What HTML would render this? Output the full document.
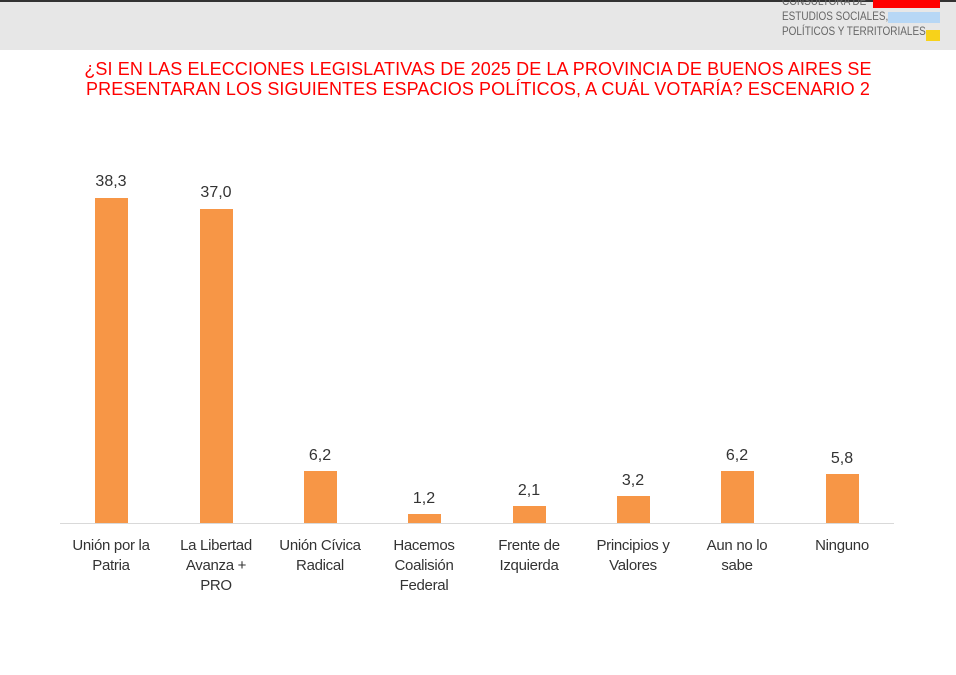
<!DOCTYPE html><html><head><style>body{margin:0;width:956px;height:675px;background:#fff;position:relative;overflow:hidden;font-family:"Liberation Sans",sans-serif}
.a{position:absolute}.bar{position:absolute;background:#f79646;width:33px}
.v{position:absolute;width:80px;text-align:center;font-size:16px;color:#333}
.c{position:absolute;width:104px;text-align:center;font-size:15px;line-height:20px;color:#333;top:536px;letter-spacing:-0.3px}
</style></head><body>
<div class="a" style="left:0;top:0;width:956px;height:50px;background:#e7e7e7"></div>
<div class="a" style="left:0;top:0;width:956px;height:2px;background:#333"></div>
<div class="a" style="left:782px;top:-6px;font-size:12px;color:#666;line-height:15px;transform:scaleX(0.83);transform-origin:0 0;white-space:nowrap">CONSULTORA DE<br>ESTUDIOS SOCIALES,<br>POLÍTICOS Y TERRITORIALES</div>
<div class="a" style="left:873px;top:0;width:67px;height:8px;background:#f00"></div>
<div class="a" style="left:888px;top:12px;width:52px;height:11px;background:#b7d7f5"></div>
<div class="a" style="left:926px;top:30px;width:14px;height:11px;background:#f7d21a"></div>
<div class="a" style="left:0;top:59px;width:956px;text-align:center;color:#f00;font-size:18px;line-height:20px;letter-spacing:0.1px">¿SI EN LAS ELECCIONES LEGISLATIVAS DE 2025 DE LA PROVINCIA DE BUENOS AIRES SE<br>PRESENTARAN LOS SIGUIENTES ESPACIOS POLÍTICOS, A CUÁL VOTARÍA? ESCENARIO 2</div>
<div class="a" style="left:60px;top:523px;width:834px;height:1px;background:#d9d9d9"></div>
<div class="bar" style="left:95px;top:198px;height:325px"></div><div class="v" style="left:71px;top:173px">38,3</div>
<div class="bar" style="left:200px;top:209px;height:314px"></div><div class="v" style="left:176px;top:184px">37,0</div>
<div class="bar" style="left:304px;top:471px;height:52px"></div><div class="v" style="left:280px;top:447px">6,2</div>
<div class="bar" style="left:408px;top:514px;height:9px"></div><div class="v" style="left:384px;top:490px">1,2</div>
<div class="bar" style="left:513px;top:506px;height:17px"></div><div class="v" style="left:489px;top:482px">2,1</div>
<div class="bar" style="left:617px;top:496px;height:27px"></div><div class="v" style="left:593px;top:472px">3,2</div>
<div class="bar" style="left:721px;top:471px;height:52px"></div><div class="v" style="left:697px;top:447px">6,2</div>
<div class="bar" style="left:826px;top:474px;height:49px"></div><div class="v" style="left:802px;top:450px">5,8</div>
<div class="c" style="left:59px">Unión por la<br>Patria</div>
<div class="c" style="left:164px">La Libertad<br>Avanza +<br>PRO</div>
<div class="c" style="left:268px">Unión Cívica<br>Radical</div>
<div class="c" style="left:372px">Hacemos<br>Coalisión<br>Federal</div>
<div class="c" style="left:477px">Frente de<br>Izquierda</div>
<div class="c" style="left:581px">Principios y<br>Valores</div>
<div class="c" style="left:685px">Aun no lo<br>sabe</div>
<div class="c" style="left:790px">Ninguno</div>
</body></html>
